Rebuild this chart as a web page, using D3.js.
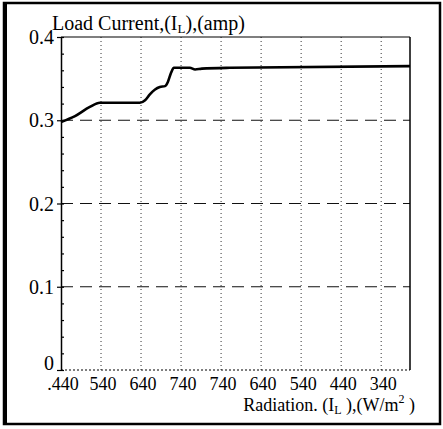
<!DOCTYPE html>
<html>
<head>
<meta charset="utf-8">
<script src="https://cdn.jsdelivr.net/npm/d3@7"></script>
<style>
  body { margin: 0; background: #fff; }
  text { font-family: "Liberation Serif", "DejaVu Serif", serif; fill: #000; }
</style>
</head>
<body>
<svg id="chart" width="443" height="429"></svg>
<script>
// tick labels along the radiation axis (up then back down)
const xTickLabels = [".440", "540", "640", "740", "740", "640", "540", "440", "340"];
const yTicks = [0, 0.1, 0.2, 0.3, 0.4];
const yTickLabels = ["0", "0.1", "0.2", "0.3", "0.4"];

// load current curve, x = position along the tick sequence
const curveX = [0, 0.35, 0.72, 0.97, 1.97, 2.1, 2.22, 2.35, 2.47, 2.6, 2.67, 2.75, 2.82, 3.22, 3.35, 3.52, 4.22, 8.72];
const curveY = [0.298, 0.305, 0.316, 0.321, 0.321, 0.324, 0.331, 0.337, 0.340, 0.341, 0.346, 0.357, 0.363, 0.363, 0.361, 0.362, 0.363, 0.365];

const svg = d3.select("#chart");

// outer frame
svg.append("rect")
  .attr("x", 4).attr("y", 3)
  .attr("width", 436).attr("height", 421)
  .attr("fill", "none").attr("stroke", "#000").attr("stroke-width", 2.5);
svg.append("line")
  .attr("x1", 5).attr("x2", 5).attr("y1", 3).attr("y2", 424)
  .attr("stroke", "#000").attr("stroke-width", 4);

const x = d3.scaleLinear().domain([0, 8.72]).range([61, 410]);
const y = d3.scaleLinear().domain([0, 0.4]).range([370, 37]);

const g = svg.append("g");

// vertical dotted grid
g.selectAll(".vgrid")
  .data(d3.range(1, xTickLabels.length))
  .enter().append("line")
    .attr("x1", d => x(d)).attr("x2", d => x(d))
    .attr("y1", y(0.4)).attr("y2", y(0))
    .attr("stroke", "#333").attr("stroke-width", 1)
    .attr("stroke-dasharray", "1,3");

// horizontal dashed grid
g.selectAll(".hgrid")
  .data([0.1, 0.2, 0.3])
  .enter().append("line")
    .attr("x1", x(0)).attr("x2", x(8.72))
    .attr("y1", d => y(d)).attr("y2", d => y(d))
    .attr("stroke", "#111").attr("stroke-width", 1.2)
    .attr("stroke-dasharray", "12,7");

// frame of plot
g.append("line")
  .attr("x1", x(0)).attr("x2", x(8.72)).attr("y1", y(0.4)).attr("y2", y(0.4))
  .attr("stroke", "#000").attr("stroke-width", 1.2);
g.append("line")
  .attr("x1", x(8.72)).attr("x2", x(8.72)).attr("y1", y(0.4)).attr("y2", y(0))
  .attr("stroke", "#000").attr("stroke-width", 1.5);
g.append("line")
  .attr("x1", x(0)).attr("x2", x(8.72)).attr("y1", y(0)).attr("y2", y(0))
  .attr("stroke", "#000").attr("stroke-width", 1.2)
  .attr("stroke-dasharray", "2,2");

// left axis with minor ticks
const yAxis = d3.axisLeft(y)
  .tickValues(d3.range(0, 0.401, 0.02))
  .tickSizeInner(0).tickSizeOuter(0)
  .tickFormat("");
const ya = g.append("g").attr("transform", `translate(${x(0)},0)`).call(yAxis);
ya.select(".domain").attr("stroke", "#000").attr("stroke-width", 1.5);
ya.selectAll(".tick line")
  .attr("x1", d => yTicks.some(t => Math.abs(t - d) < 1e-6) ? -4 : 0)
  .attr("x2", 3)
  .attr("stroke", "#000").attr("stroke-width", 1.2);

// the 0 label sits a bit higher so it clears the x labels
g.selectAll(".ylab")
  .data(yTicks)
  .enter().append("text")
    .attr("x", 54).attr("y", d => y(d) + (d === 0 ? 0 : 7))
    .attr("text-anchor", "end")
    .attr("font-size", 20)
    .text((d, i) => yTickLabels[i]);

// x tick labels
g.selectAll(".xlab")
  .data(xTickLabels)
  .enter().append("text")
    .attr("x", (d, i) => x(i) + 2).attr("y", 390)
    .attr("text-anchor", "middle")
    .attr("font-size", 18)
    .text(d => d);

// curve
const line = d3.line()
  .x((d, i) => x(curveX[i]))
  .y(d => y(d))
  .curve(d3.curveMonotoneX);
g.append("path")
  .datum(curveY)
  .attr("d", line)
  .attr("fill", "none").attr("stroke", "#000").attr("stroke-width", 2.6);

// titles
const t1 = svg.append("text").attr("x", 52).attr("y", 30).attr("font-size", 20);
t1.append("tspan").text("Load Current,(I");
t1.append("tspan").attr("font-size", 13).attr("dy", 3).text("L");
t1.append("tspan").attr("dy", -3).text("),(amp)");

const t2 = svg.append("text").attr("x", 415).attr("y", 411).attr("font-size", 18).attr("text-anchor", "end");
t2.append("tspan").text("Radiation. (I");
t2.append("tspan").attr("font-size", 12).attr("dy", 3).text("L");
t2.append("tspan").attr("dy", -3).text(" ),(W/m");
t2.append("tspan").attr("font-size", 12).attr("dy", -8).text("2");
t2.append("tspan").attr("dy", 8).text(" )");
</script>
</body>
</html>
